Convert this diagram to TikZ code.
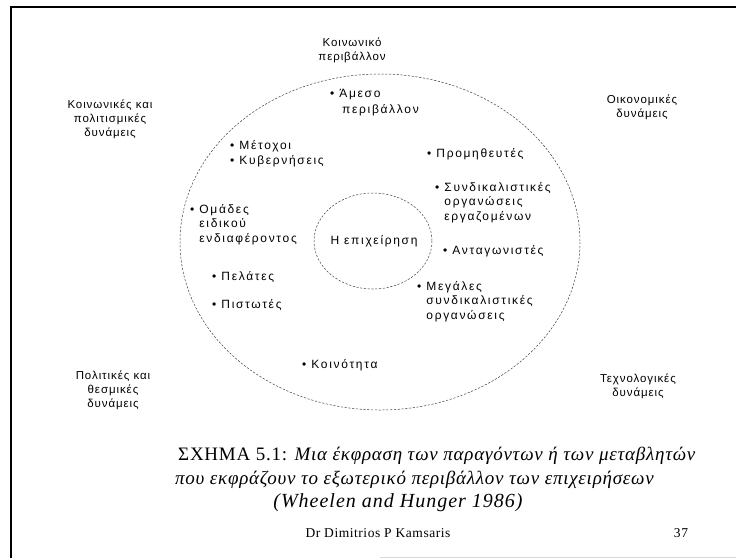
\documentclass[tikz,border=0pt]{standalone}
\usepackage{fontspec}
\setmainfont{Liberation Serif}
\setsansfont{Liberation Sans}
\newfontfamily\lblfont[LetterSpace=14]{Liberation Sans}
\newfontfamily\forcefont[LetterSpace=8]{Liberation Sans}
\newfontfamily\capfont[LetterSpace=4]{Liberation Serif}
\newfontfamily\srcfont[LetterSpace=5]{Liberation Serif}
\newfontfamily\footfont[LetterSpace=4]{Liberation Serif}
\begin{document}
\begin{tikzpicture}[x=1pt,y=-1pt,
  lbl/.style={font=\lblfont\fontsize{12}{14.5}\selectfont,inner sep=0pt,align=left},
  clbl/.style={font=\forcefont\fontsize{11.5}{14}\selectfont,inner sep=0pt,align=center},
  ring/.style={draw=black!75,line width=0.5pt,dash pattern=on 2.2pt off 1.6pt},
  captext/.style={font=\capfont\fontsize{19}{23.5}\selectfont,inner sep=0pt},
  foottext/.style={font=\footfont\fontsize{13.5}{15}\selectfont,inner sep=0pt}]
\useasboundingbox (0,0) rectangle (736,558);
% page frame
\draw[line width=2pt] (11,558) -- (11,7) -- (736,7);
\draw[black!15,line width=1pt] (380,557) -- (736,557);
% environment rings
\draw[ring] (380,242) ellipse [x radius=200,y radius=168];
\draw[ring] (373,241) ellipse [x radius=59,y radius=48];
\newcommand{\bl}{\textbullet\ }
\newcommand{\ind}{\hphantom{\textbullet\ }}
% outer forces
\node[clbl] (koin) at (352,50) {Κοινωνικό\\περιβάλλον};
\node[clbl] (kpol) at (110,119) {Κοινωνικές και\\πολιτισμικές\\δυνάμεις};
\node[clbl] (oik) at (642,107) {Οικονομικές\\δυνάμεις};
\node[clbl] (pol) at (113,390) {Πολιτικές και\\θεσμικές\\δυνάμεις};
\node[clbl] (tex) at (638,386) {Τεχνολογικές\\δυνάμεις};
% stakeholders
\node[lbl,anchor=west] (ames) at (330,95) {\bl Άμεσο};
\node[lbl,anchor=west] (amesb) at (342,110) {περιβάλλον};
\node[lbl,anchor=west] (met) at (230,146) {\bl Μέτοχοι};
\node[lbl,anchor=west] (kyv) at (230,161) {\bl Κυβερνήσεις};
\node[lbl,anchor=west] (prom) at (427,154) {\bl Προμηθευτές};
\node[lbl,anchor=north west] (synd) at (435,182) {\bl Συνδικαλιστικές\\\ind οργανώσεις\\\ind εργαζομένων};
\node[lbl,anchor=north west] (omad) at (190,204) {\bl Ομάδες\\\ind ειδικού\\\ind ενδιαφέροντος};
\node[font=\lblfont\fontsize{12}{14}\selectfont,inner sep=0pt] (epix) at (374,241) {Η επιχείρηση};
\node[lbl,anchor=west] (anta) at (443,251) {\bl Ανταγωνιστές};
\node[lbl,anchor=west] (pel) at (212,277) {\bl Πελάτες};
\node[lbl,anchor=west] (pist) at (212,305) {\bl Πιστωτές};
\node[lbl,anchor=north west] (meg) at (417,281) {\bl Μεγάλες\\\ind συνδικαλιστικές\\\ind οργανώσεις};
\node[lbl,anchor=west] (koit) at (302,365) {\bl Κοινότητα};
% caption
\node[captext,anchor=west] (cap1) at (178,456) {ΣΧΗΜΑ 5.1: \textit{Μια έκφραση των παραγόντων ή των μεταβλητών}};
\node[captext,anchor=west] (cap2) at (175,480) {\textit{που εκφράζουν το εξωτερικό περιβάλλον των επιχειρήσεων}};
\node[font=\srcfont\itshape\fontsize{20}{23.5}\selectfont,inner sep=0pt] (cap3) at (398,503) {(Wheelen and Hunger 1986)};
% footer
\node[foottext] (auth) at (378,533) {Dr Dimitrios P Kamsaris};
\node[foottext] (page) at (681,533) {37};
\end{tikzpicture}
\end{document}
